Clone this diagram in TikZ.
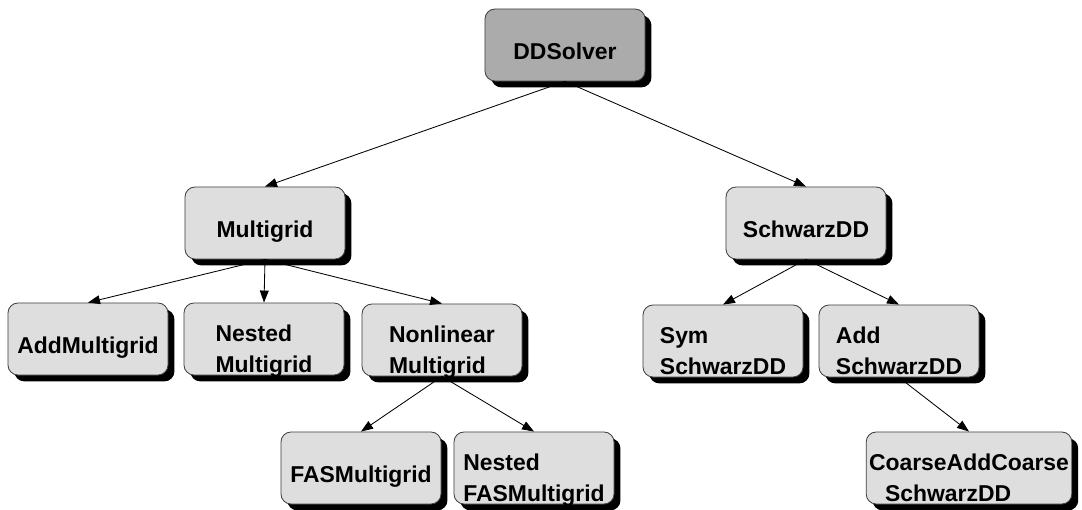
\documentclass[tikz,border=0pt]{standalone}
\usepackage{fontspec}
\setmainfont{Liberation Sans}
\usepackage{tikz}
\usetikzlibrary{arrows.meta,shadows}

\tikzset{
  cls/.style={draw=black!75, line width=0.6pt, fill=black!13, rounded corners=2.5mm,
    minimum width=4cm, minimum height=1.8cm, inner xsep=2pt, inner ysep=0pt, align=left,
    font=\fontsize{16.3}{22}\selectfont\bfseries, text height=21pt, text depth=0pt,
    drop shadow={shadow xshift=1.6mm, shadow yshift=-1.6mm, fill=black, opacity=1}},
  cls2/.style={cls, text height=47.5pt},
  root/.style={cls, fill=black!33},
  arr/.style={line width=0.6pt, -{Triangle[length=3mm,width=2.2mm]}}
}

\begin{document}
\begin{tikzpicture}[x=0.025cm,y=-0.025cm]
\useasboundingbox (0,0) rectangle (1082,510);

\node(dd)[root] at (565,45) {DDSolver};

\node(mg)[cls] at (265,223) {Multigrid};
\node(sdd)[cls] at (806,223) {SchwarzDD};

\node(addmg)[cls] at (88,339) {AddMultigrid};
\node(nestmg)[cls2] at (264,339) {Nested\\Multigrid};
\node(nlmg)[cls2] at (442,340) {Nonlinear\\Multigrid};
\node(symsdd)[cls2] at (723,341) {Sym\\SchwarzDD};
\node(addsdd)[cls2] at (899,341) {Add\\SchwarzDD};

\node(fasmg)[cls] at (361,468) {FASMultigrid};
\node(nestfas)[cls2] at (534,468) {Nested\\FASMultigrid};
\node(coarse)[cls2] at (969,468) {CoarseAddCoarse\\\hspace*{0.7em}SchwarzDD};

\draw[arr] (dd.south) -- (mg.north);
\draw[arr] (dd.south) -- (sdd.north);

\draw[arr] (mg.south) -- (addmg.north);
\draw[arr] (mg.south) -- (nestmg.north);
\draw[arr] (mg.south) -- (nlmg.north);

\draw[arr] (sdd.south) -- (symsdd.north);
\draw[arr] (sdd.south) -- (addsdd.north);

\draw[arr] (nlmg.south) -- (fasmg.north);
\draw[arr] (nlmg.south) -- (nestfas.north);

\draw[arr] (addsdd.south) -- (coarse.north);

\end{tikzpicture}
\end{document}
